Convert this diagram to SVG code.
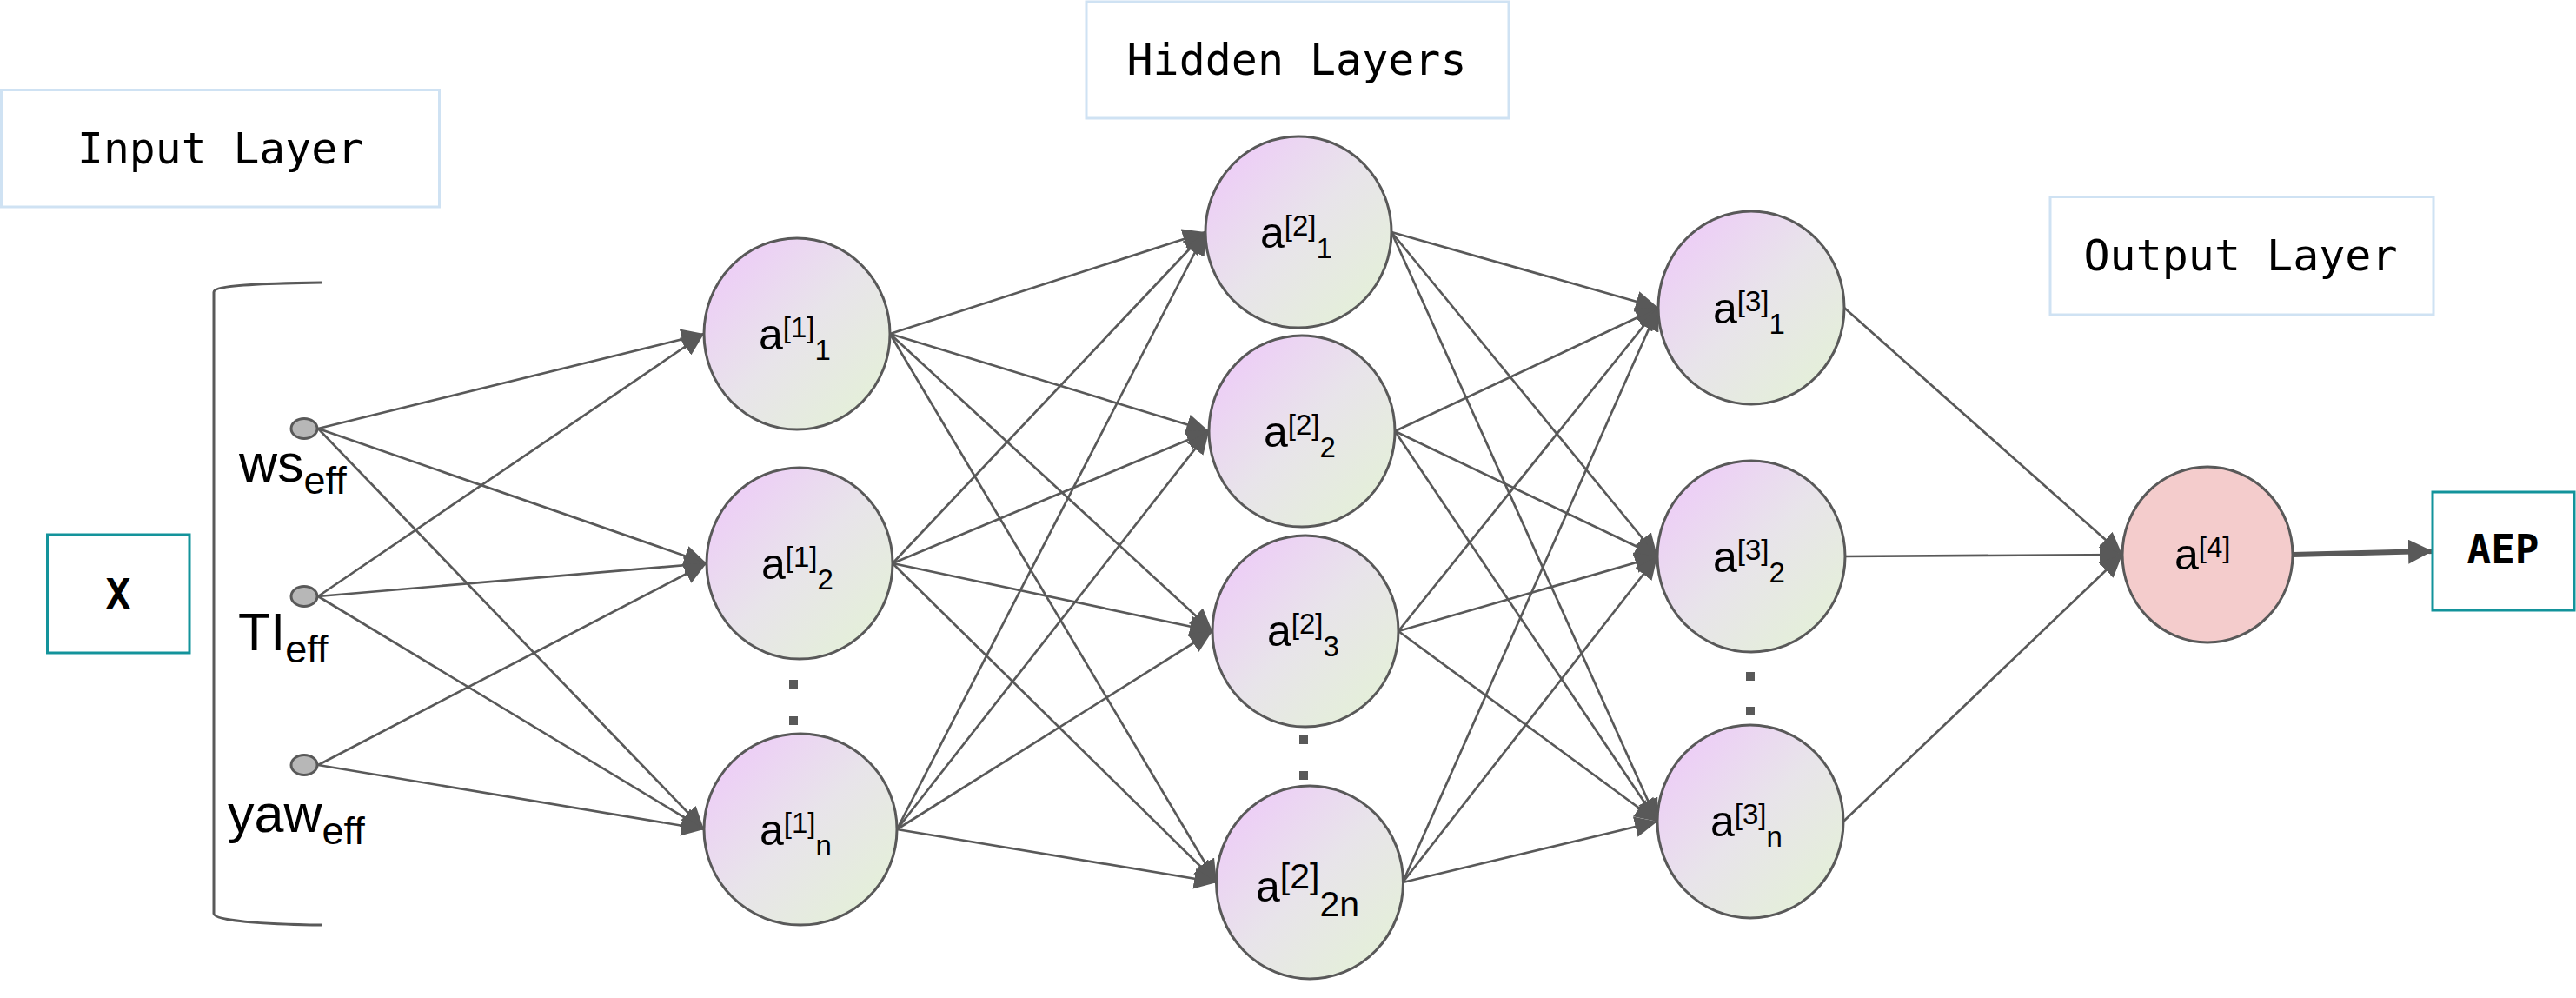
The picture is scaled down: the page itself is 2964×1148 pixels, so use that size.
<svg xmlns="http://www.w3.org/2000/svg" width="2964" height="1148" viewBox="0 0 2964 1148">
<defs>
<linearGradient id="ng" x1="0" y1="0" x2="1" y2="1">
<stop offset="0" stop-color="#efc6fb"/>
<stop offset="0.5" stop-color="#e8e4ea"/>
<stop offset="1" stop-color="#e3f3d4"/>
</linearGradient>
<marker id="ah" markerUnits="userSpaceOnUse" markerWidth="26" markerHeight="24" refX="26" refY="12" orient="auto"><path d="M0,0 L26,12 L0,24 z" fill="#595959"/></marker>
<marker id="ahb" markerUnits="userSpaceOnUse" markerWidth="28" markerHeight="28" refX="28" refY="14" orient="auto"><path d="M0,0 L28,14 L0,28 z" fill="#595959"/></marker>
</defs>
<style>
.lbl{fill:none;stroke:#cfe2f3;stroke-width:3}
.io{fill:#ffffff;stroke:#13939b;stroke-width:3}
.mono{font-family:"DejaVu Sans Mono","Liberation Mono",monospace;font-size:50px;fill:#000}
.monob{font-family:"DejaVu Sans Mono","Liberation Mono",monospace;font-weight:bold;fill:#000}
.node{fill:url(#ng);stroke:#595959;stroke-width:3}
.out{fill:#f4cccc;stroke:#595959;stroke-width:3}
.in{fill:#b7b7b7;stroke:#595959;stroke-width:3}
.t{font-family:"Liberation Sans",Arial,sans-serif;font-size:50px;fill:#000}
.t2{font-family:"Liberation Sans",Arial,sans-serif;font-size:61px;fill:#000}
.dot{fill:#595959}
.c line{stroke:#595959;stroke-width:2.7;marker-end:url(#ah)}
</style>
<rect width="2964" height="1148" fill="#ffffff"/>

<g id="input-layer-label">
<rect class="lbl" x="1.5" y="103.5" width="504" height="134.5"/>
<text class="mono" x="253.5" y="188" text-anchor="middle" textLength="329" lengthAdjust="spacingAndGlyphs">Input Layer</text>
</g>
<g id="hidden-layers-label">
<rect class="lbl" x="1250" y="2" width="486" height="134"/>
<text class="mono" x="1492" y="86" text-anchor="middle" textLength="391" lengthAdjust="spacingAndGlyphs">Hidden Layers</text>
</g>
<g id="output-layer-label">
<rect class="lbl" x="2359" y="226.5" width="441" height="135.5"/>
<text class="mono" x="2578" y="311" text-anchor="middle" textLength="361" lengthAdjust="spacingAndGlyphs">Output Layer</text>
</g>

<g id="x-box">
<rect class="io" x="54.5" y="615" width="163.5" height="136"/>
<text class="monob" x="136" y="700" font-size="48" text-anchor="middle">X</text>
</g>

<g id="bracket">
<path d="M370,325 C300,326 246,328 246,336 L246,1051 C246,1059 300,1063 370,1064" fill="none" stroke="#595959" stroke-width="3"/>
</g>

<g class="c" id="connectors">
<line x1="366" y1="493" x2="810" y2="384"/>
<line x1="366" y1="493" x2="813" y2="648"/>
<line x1="366" y1="493" x2="810" y2="954"/>
<line x1="366" y1="686" x2="810" y2="384"/>
<line x1="366" y1="686" x2="813" y2="648"/>
<line x1="366" y1="686" x2="810" y2="954"/>
<line x1="366" y1="880" x2="813" y2="648"/>
<line x1="366" y1="880" x2="810" y2="954"/>

<line x1="1024" y1="384" x2="1387" y2="267"/>
<line x1="1024" y1="384" x2="1391" y2="496"/>
<line x1="1024" y1="384" x2="1395" y2="726"/>
<line x1="1024" y1="384" x2="1400" y2="1015"/>
<line x1="1027" y1="648" x2="1387" y2="267"/>
<line x1="1027" y1="648" x2="1391" y2="496"/>
<line x1="1027" y1="648" x2="1395" y2="726"/>
<line x1="1027" y1="648" x2="1400" y2="1015"/>
<line x1="1032" y1="954" x2="1387" y2="267"/>
<line x1="1032" y1="954" x2="1391" y2="496"/>
<line x1="1032" y1="954" x2="1395" y2="726"/>
<line x1="1032" y1="954" x2="1400" y2="1015"/>

<line x1="1601" y1="267" x2="1908" y2="354"/>
<line x1="1601" y1="267" x2="1907" y2="640"/>
<line x1="1601" y1="267" x2="1907" y2="945"/>
<line x1="1605" y1="496" x2="1908" y2="354"/>
<line x1="1605" y1="496" x2="1907" y2="640"/>
<line x1="1605" y1="496" x2="1907" y2="945"/>
<line x1="1609" y1="726" x2="1908" y2="354"/>
<line x1="1609" y1="726" x2="1907" y2="640"/>
<line x1="1609" y1="726" x2="1907" y2="945"/>
<line x1="1614" y1="1015" x2="1908" y2="354"/>
<line x1="1614" y1="1015" x2="1907" y2="640"/>
<line x1="1614" y1="1015" x2="1907" y2="945"/>

<line x1="2122" y1="354" x2="2442" y2="638"/>
<line x1="2123" y1="640" x2="2442" y2="638"/>
<line x1="2121" y1="945" x2="2442" y2="638"/>

<line x1="2638" y1="638" x2="2799" y2="634" style="stroke-width:6;marker-end:url(#ahb)"/>
</g>

<g id="in-ws">
<ellipse class="in" cx="350" cy="493" rx="15" ry="11.5"/>
<text class="t2" x="275" y="554">ws<tspan font-size="45" dy="14">eff</tspan></text>
</g>
<g id="in-ti">
<ellipse class="in" cx="350" cy="686" rx="15" ry="11.5"/>
<text class="t2" x="274" y="748">TI<tspan font-size="45" dy="14">eff</tspan></text>
</g>
<g id="in-yaw">
<ellipse class="in" cx="350" cy="880" rx="15" ry="11.5"/>
<text class="t2" x="262" y="957">yaw<tspan font-size="45" dy="14">eff</tspan></text>
</g>

<g id="a1-1">
<ellipse class="node" cx="917" cy="384" rx="107" ry="110"/>
<text class="t" x="873" y="402">a<tspan font-size="33" dy="-14">[1]</tspan><tspan font-size="33" dy="26">1</tspan></text>
</g>
<g id="a1-2">
<ellipse class="node" cx="920" cy="648" rx="107" ry="110"/>
<text class="t" x="876" y="666">a<tspan font-size="33" dy="-14">[1]</tspan><tspan font-size="33" dy="26">2</tspan></text>
</g>
<g id="a1-dots">
<rect class="dot" x="908" y="782" width="10" height="10"/>
<rect class="dot" x="908" y="824" width="10" height="10"/>
</g>
<g id="a1-n">
<ellipse class="node" cx="921" cy="954" rx="111" ry="110"/>
<text class="t" x="874" y="972">a<tspan font-size="33" dy="-14">[1]</tspan><tspan font-size="33" dy="26">n</tspan></text>
</g>

<g id="a2-1">
<ellipse class="node" cx="1494" cy="267" rx="107" ry="110"/>
<text class="t" x="1450" y="285">a<tspan font-size="33" dy="-14">[2]</tspan><tspan font-size="33" dy="26">1</tspan></text>
</g>
<g id="a2-2">
<ellipse class="node" cx="1498" cy="496" rx="107" ry="110"/>
<text class="t" x="1454" y="514">a<tspan font-size="33" dy="-14">[2]</tspan><tspan font-size="33" dy="26">2</tspan></text>
</g>
<g id="a2-3">
<ellipse class="node" cx="1502" cy="726" rx="107" ry="110"/>
<text class="t" x="1458" y="743">a<tspan font-size="33" dy="-14">[2]</tspan><tspan font-size="33" dy="26">3</tspan></text>
</g>
<g id="a2-dots">
<rect class="dot" x="1495" y="846" width="10" height="10"/>
<rect class="dot" x="1495" y="887" width="10" height="10"/>
</g>
<g id="a2-2n">
<ellipse class="node" cx="1507" cy="1015" rx="107.5" ry="111"/>
<text class="t" x="1445" y="1037" font-size="58">a<tspan font-size="41" dy="-15">[2]</tspan><tspan font-size="41" dy="32">2n</tspan></text>
</g>

<g id="a3-1">
<ellipse class="node" cx="2015" cy="354" rx="107" ry="111"/>
<text class="t" x="1971" y="372">a<tspan font-size="33" dy="-14">[3]</tspan><tspan font-size="33" dy="26">1</tspan></text>
</g>
<g id="a3-2">
<ellipse class="node" cx="2015" cy="640" rx="108" ry="110"/>
<text class="t" x="1971" y="658">a<tspan font-size="33" dy="-14">[3]</tspan><tspan font-size="33" dy="26">2</tspan></text>
</g>
<g id="a3-dots">
<rect class="dot" x="2009" y="773" width="10" height="10"/>
<rect class="dot" x="2009" y="813" width="10" height="10"/>
</g>
<g id="a3-n">
<ellipse class="node" cx="2014" cy="945" rx="107" ry="111"/>
<text class="t" x="1968" y="962">a<tspan font-size="33" dy="-14">[3]</tspan><tspan font-size="33" dy="26">n</tspan></text>
</g>

<g id="a4">
<ellipse class="out" cx="2540" cy="638" rx="98" ry="101"/>
<text class="t" x="2502" y="655">a<tspan font-size="33" dy="-14">[4]</tspan></text>
</g>

<g id="aep-box">
<rect class="io" x="2799" y="566" width="163" height="136"/>
<text class="monob" x="2880" y="648" font-size="46" text-anchor="middle">AEP</text>
</g>
</svg>
